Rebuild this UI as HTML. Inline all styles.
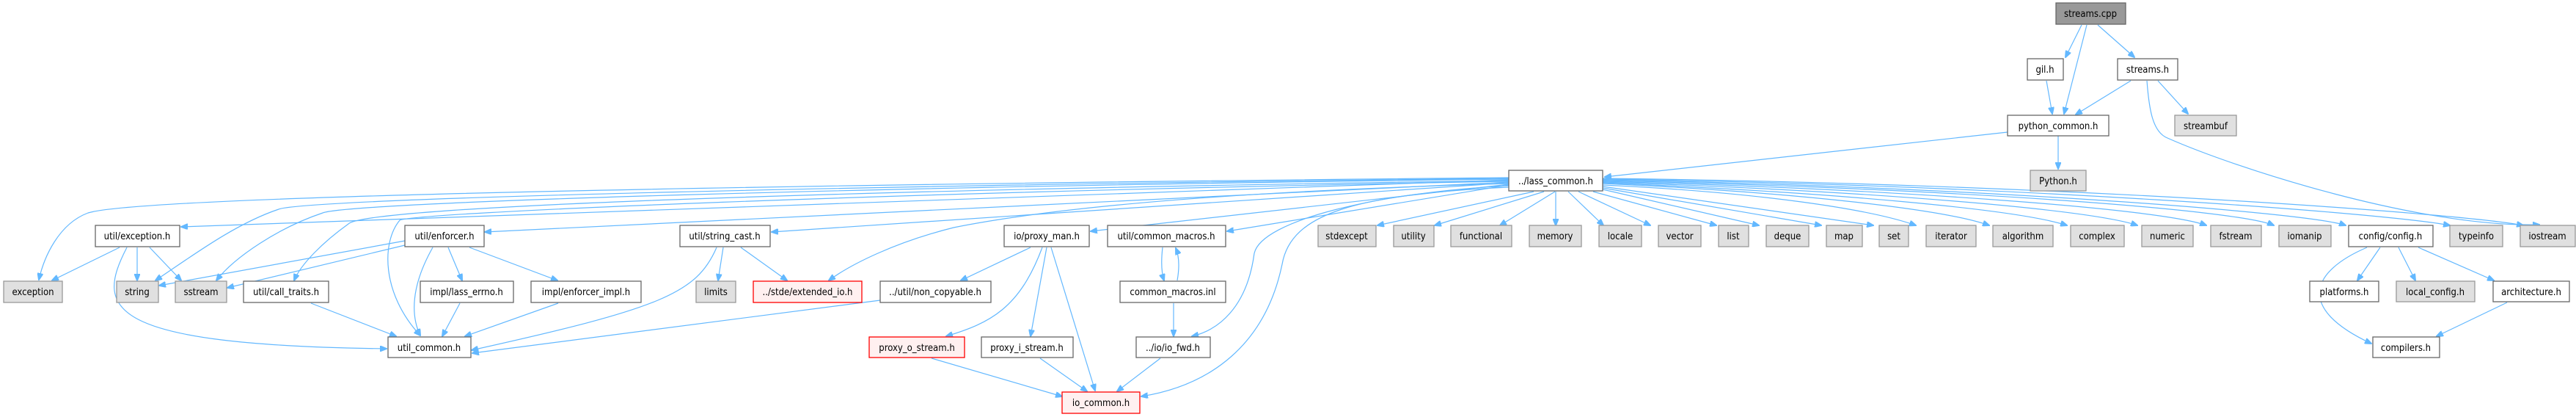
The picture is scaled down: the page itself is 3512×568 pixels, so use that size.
<!DOCTYPE html>
<html><head><meta charset="utf-8"><style>
html,body{margin:0;padding:0;background:#fff;width:3512px;height:568px;overflow:hidden}
text{font-family:"DejaVu Sans Condensed","Liberation Sans Narrow","Liberation Sans",sans-serif;font-size:13px;text-anchor:middle;fill:#000}
.w{fill:#fff;stroke:#666;stroke-width:1.3}
.g{fill:#e0e0e0;stroke:#999;stroke-width:1.3}
.r{fill:#fff0f0;stroke:#f00;stroke-width:1.3}
.d{fill:#999;stroke:#666;stroke-width:1.3}
path{fill:none;stroke:#63b8ff;stroke-width:1.2}
</style></head><body>
<svg width="3512" height="568" xmlns="http://www.w3.org/2000/svg">
<defs><marker id="a" markerWidth="10" markerHeight="8" refX="9" refY="4" orient="auto" markerUnits="userSpaceOnUse"><path d="M0,0 L10,4 L0,8 z" style="fill:#63b8ff;stroke:#63b8ff"/></marker></defs>
<g marker-end="url(#a)">
<path d="M2838,34 L2816,78"/>
<path d="M2845,34 L2814,155"/>
<path d="M2860,34 L2910,78"/>
<path d="M2790,110 L2798,155"/>
<path d="M2905,110 L2830,156"/>
<path d="M2942,110 L2983,155"/>
<path d="M2927,110 C2930,150 2935,180 2955,188 C3050,230 3300,310 3462,306"/>
<path d="M2806,185 L2806,230"/>
<path d="M2737,180 L2188,241"/>
<path d="M2091,261 L1878,307"/>
<path d="M2105,261 L1956,307"/>
<path d="M2120,261 L2045,307"/>
<path d="M2121,261 L2121,307"/>
<path d="M2138,261 L2186,307"/>
<path d="M2152,261 L2250,307"/>
<path d="M2172,261 L2340,307"/>
<path d="M2185,258 L2398,307"/>
<path d="M2185,256 L2483,307"/>
<path d="M2185,254 L2554,307"/>
<path d="M2185,252 C2400,262 2550,285 2612,307"/>
<path d="M2185,250 C2450,262 2650,285 2712,307"/>
<path d="M2185,249 C2500,262 2750,285 2818,307"/>
<path d="M2185,248 C2550,260 2850,285 2914,307"/>
<path d="M2185,247 C2600,258 2950,285 3008,307"/>
<path d="M2185,246 C2650,256 3050,285 3100,307"/>
<path d="M2185,245 C2700,254 3150,290 3198,307"/>
<path d="M2185,244 C2750,252 3250,290 3340,307"/>
<path d="M2185,243 C2800,250 3350,290 3440,307"/>
<path d="M2057,242 C1200,250 200,265 120,290 C80,305 60,350 53,381"/>
<path d="M2057,243 C1200,252 420,270 380,285 C320,305 260,350 212,382"/>
<path d="M2057,244 C1200,254 480,275 440,290 C380,310 320,350 295,382"/>
<path d="M2057,245 L247,309"/>
<path d="M2057,246 C1200,258 500,280 475,305 C440,330 410,360 401,382"/>
<path d="M2057,247 C1200,262 560,290 545,300 C520,330 520,400 573,457"/>
<path d="M2057,248 L661,316"/>
<path d="M2057,249 L1052,316"/>
<path d="M2057,250 C1700,260 1450,280 1300,310 C1220,330 1160,360 1130,382"/>
<path d="M2057,251 L1487,315"/>
<path d="M2057,252 L1673,315"/>
<path d="M2057,253 C1880,262 1720,300 1710,345 C1700,420 1660,450 1625,458"/>
<path d="M2057,255 C1850,265 1760,290 1748,360 C1725,470 1650,525 1556,540"/>
<path d="M163,337 L71,382"/>
<path d="M187,337 L187,382"/>
<path d="M204,337 L247,382"/>
<path d="M173,337 C130,420 140,470 527,475"/>
<path d="M552,328 L217,389"/>
<path d="M552,334 L310,392"/>
<path d="M590,337 C560,390 560,430 573,457"/>
<path d="M611,337 L630,382"/>
<path d="M640,337 L760,382"/>
<path d="M424,413 L540,458"/>
<path d="M627,413 L603,458"/>
<path d="M761,413 L634,458"/>
<path d="M977,337 C950,400 900,420 643,477"/>
<path d="M986,337 L979,382"/>
<path d="M1010,337 L1073,382"/>
<path d="M1200,409 L644,481"/>
<path d="M1405,337 L1310,382"/>
<path d="M1421,337 C1390,420 1350,440 1290,458"/>
<path d="M1427,337 L1405,458"/>
<path d="M1433,337 L1493,532"/>
<path d="M1585,337 C1583,355 1583,370 1587,382"/>
<path d="M1605,382 C1608,365 1608,350 1603,338"/>
<path d="M1600,413 L1600,458"/>
<path d="M1270,488 L1448,540"/>
<path d="M1418,488 L1482,533"/>
<path d="M1582,488 L1523,533"/>
<path d="M3227,337 C3150,370 3130,420 3233,468"/>
<path d="M3245,337 L3214,382"/>
<path d="M3270,337 L3293,382"/>
<path d="M3297,337 L3400,382"/>
<path d="M3418,412 L3322,458"/>
</g>
<rect class="d" x="2803" y="4" width="95" height="29"/><text x="2850" y="23">streams.cpp</text>
<rect class="w" x="2764" y="80" width="49" height="29"/><text x="2788" y="99">gil.h</text>
<rect class="w" x="2887" y="80" width="82" height="29"/><text x="2928" y="99">streams.h</text>
<rect class="w" x="2737" y="157" width="138" height="28"/><text x="2806" y="176">python_common.h</text>
<rect class="g" x="2965" y="157" width="84" height="28"/><text x="3007" y="176">streambuf</text>
<rect class="g" x="2768" y="232" width="76" height="28"/><text x="2806" y="251">Python.h</text>
<rect class="w" x="2057" y="232" width="128" height="28"/><text x="2121" y="251">../lass_common.h</text>
<rect class="g" x="1797" y="307" width="79" height="29"/><text x="1836" y="326">stdexcept</text>
<rect class="g" x="1900" y="307" width="55" height="29"/><text x="1927" y="326">utility</text>
<rect class="g" x="1978" y="307" width="83" height="29"/><text x="2019" y="326">functional</text>
<rect class="g" x="2085" y="307" width="71" height="29"/><text x="2120" y="326">memory</text>
<rect class="g" x="2180" y="307" width="58" height="29"/><text x="2209" y="326">locale</text>
<rect class="g" x="2261" y="307" width="58" height="29"/><text x="2290" y="326">vector</text>
<rect class="g" x="2343" y="307" width="41" height="29"/><text x="2363" y="326">list</text>
<rect class="g" x="2408" y="307" width="58" height="29"/><text x="2437" y="326">deque</text>
<rect class="g" x="2490" y="307" width="49" height="29"/><text x="2514" y="326">map</text>
<rect class="g" x="2562" y="307" width="40" height="29"/><text x="2582" y="326">set</text>
<rect class="g" x="2626" y="307" width="68" height="29"/><text x="2660" y="326">iterator</text>
<rect class="g" x="2717" y="307" width="82" height="29"/><text x="2758" y="326">algorithm</text>
<rect class="g" x="2823" y="307" width="73" height="29"/><text x="2859" y="326">complex</text>
<rect class="g" x="2920" y="307" width="70" height="29"/><text x="2955" y="326">numeric</text>
<rect class="g" x="3014" y="307" width="69" height="29"/><text x="3048" y="326">fstream</text>
<rect class="g" x="3107" y="307" width="71" height="29"/><text x="3142" y="326">iomanip</text>
<rect class="w" x="3202" y="307" width="115" height="29"/><text x="3259" y="326">config/config.h</text>
<rect class="g" x="3340" y="307" width="72" height="29"/><text x="3376" y="326">typeinfo</text>
<rect class="g" x="3436" y="307" width="75" height="29"/><text x="3473" y="326">iostream</text>
<rect class="w" x="3149" y="383" width="94" height="28"/><text x="3196" y="402">platforms.h</text>
<rect class="g" x="3267" y="383" width="107" height="28"/><text x="3320" y="402">local_config.h</text>
<rect class="w" x="3399" y="383" width="104" height="28"/><text x="3451" y="402">architecture.h</text>
<rect class="w" x="3235" y="459" width="91" height="28"/><text x="3280" y="478">compilers.h</text>
<rect class="g" x="5" y="383" width="80" height="29"/><text x="45" y="402">exception</text>
<rect class="w" x="130" y="307" width="115" height="29"/><text x="187" y="326">util/exception.h</text>
<rect class="g" x="159" y="383" width="57" height="29"/><text x="187" y="402">string</text>
<rect class="g" x="239" y="383" width="70" height="29"/><text x="274" y="402">sstream</text>
<rect class="w" x="332" y="383" width="116" height="29"/><text x="390" y="402">util/call_traits.h</text>
<rect class="w" x="552" y="307" width="108" height="29"/><text x="606" y="326">util/enforcer.h</text>
<rect class="w" x="573" y="383" width="127" height="29"/><text x="636" y="402">impl/lass_errno.h</text>
<rect class="w" x="724" y="383" width="150" height="29"/><text x="799" y="402">impl/enforcer_impl.h</text>
<rect class="w" x="529" y="459" width="113" height="28"/><text x="585" y="478">util_common.h</text>
<rect class="w" x="927" y="307" width="123" height="29"/><text x="988" y="326">util/string_cast.h</text>
<rect class="g" x="949" y="383" width="54" height="29"/><text x="976" y="402">limits</text>
<rect class="r" x="1027" y="383" width="148" height="29"/><text x="1101" y="402">../stde/extended_io.h</text>
<rect class="w" x="1200" y="383" width="151" height="29"/><text x="1275" y="402">../util/non_copyable.h</text>
<rect class="w" x="1369" y="307" width="116" height="29"/><text x="1427" y="326">io/proxy_man.h</text>
<rect class="w" x="1510" y="307" width="161" height="29"/><text x="1590" y="326">util/common_macros.h</text>
<rect class="w" x="1527" y="383" width="144" height="29"/><text x="1599" y="402">common_macros.inl</text>
<rect class="r" x="1185" y="459" width="130" height="28"/><text x="1250" y="478">proxy_o_stream.h</text>
<rect class="w" x="1338" y="459" width="125" height="28"/><text x="1400" y="478">proxy_i_stream.h</text>
<rect class="w" x="1549" y="459" width="101" height="28"/><text x="1599" y="478">../io/io_fwd.h</text>
<rect class="r" x="1448" y="534" width="106" height="29"/><text x="1501" y="553">io_common.h</text>
</svg>
</body></html>
